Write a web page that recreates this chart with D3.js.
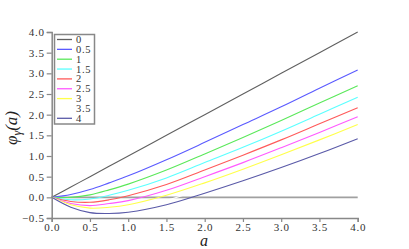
<!DOCTYPE html>
<html>
<head>
<meta charset="utf-8">
<script src="https://cdn.jsdelivr.net/npm/d3@7"></script>
<style>
  body { margin: 0; background: #fff; }
  svg text { font-family: "Liberation Serif", "Times New Roman", "DejaVu Serif", serif; }
</style>
</head>
<body>
<div id="chart"></div>
<script>
// values
var aVals = [0, 0.25, 0.5, 0.75, 1, 1.5, 2, 2.5, 3, 3.5, 4];
var gammas = ["0", "0.5", "1", "1.5", "2", "2.5", "3", "3.5", "4"];
var phi0  = [0, 0.25, 0.5, 0.75, 1, 1.5, 2, 2.5, 3, 3.5, 4];
var phi05 = [0, 0.07, 0.19, 0.35, 0.52, 0.91, 1.33, 1.76, 2.19, 2.64, 3.08];
var phi1  = [0, 0.00, 0.06, 0.18, 0.32, 0.66, 1.05, 1.45, 1.86, 2.28, 2.70];
var phi15 = [0, -0.06, -0.04, 0.05, 0.17, 0.47, 0.84, 1.21, 1.60, 2.01, 2.42];
var phi2  = [0, -0.10, -0.12, -0.06, 0.04, 0.31, 0.66, 1.02, 1.39, 1.78, 2.17];
var phi25 = [0, -0.15, -0.20, -0.15, -0.08, 0.17, 0.50, 0.84, 1.20, 1.57, 1.95];
var phi3  = [0, -0.18, -0.26, -0.24, -0.18, 0.05, 0.35, 0.68, 1.03, 1.39, 1.76];
var phi35 = [0, -0.22, -0.32, -0.32, -0.27, -0.07, 0.22, 0.54, 0.87, 1.22, 1.57];
var phi4  = [0, -0.24, -0.37, -0.39, -0.36, -0.18, 0.10, 0.40, 0.72, 1.06, 1.42];
var tickVals = [0, 0.5, 1, 1.5, 2, 2.5, 3, 3.5, 4];
var yTickVals = [-0.5, 0, 0.5, 1, 1.5, 2, 2.5, 3, 3.5, 4];

var series = [phi0, phi05, phi1, phi15, phi2, phi25, phi3, phi35, phi4];
var colors = ["#606060", "#5a5aff", "#5ae85a", "#5affff", "#ff5a5a", "#ff5aff", "#ffff4a", "#ffffff", "#5a5aa8"];

var serif = "Liberation Serif, Times New Roman, DejaVu Serif, serif";
var width = 409, height = 249;

var svg = d3.select("#chart").append("svg")
  .attr("width", width)
  .attr("height", height);

var x = d3.scaleLinear().domain([0, 4]).range([51.7, 357.7]);
var y = d3.scaleLinear().domain([-0.5, 4]).range([218, 32]);

// zero line
svg.append("line")
  .attr("x1", x(0)).attr("x2", x(4))
  .attr("y1", y(0)).attr("y2", y(0))
  .attr("stroke", "#a0a0a0")
  .attr("stroke-width", 1.6);

var line = d3.line()
  .x(function(d) { return x(d[0]); })
  .y(function(d) { return y(d[1]); })
  .curve(d3.curveCatmullRom.alpha(0.5));

series.forEach(function(s, i) {
  svg.append("path")
    .datum(aVals.map(function(a, j) { return [a, s[j]]; }))
    .attr("fill", "none")
    .attr("stroke", colors[i])
    .attr("stroke-width", 1.1)
    .attr("d", line);
});

// axes
var xAxis = svg.append("g")
  .attr("transform", "translate(0," + y(-0.5) + ")")
  .call(d3.axisBottom(x).tickValues(tickVals).tickSize(4).tickPadding(1)
    .tickFormat(d3.format(".1f")));
var yAxis = svg.append("g")
  .attr("transform", "translate(" + x(0) + ",0)")
  .call(d3.axisLeft(y).tickValues(yTickVals).tickSize(5).tickPadding(2)
    .tickFormat(d3.format(".1f")));

[xAxis, yAxis].forEach(function(g) {
  g.attr("font-family", serif).attr("font-size", 11);
  g.select(".domain").attr("stroke", "#888").attr("stroke-width", 1.5);
  g.selectAll(".tick line").attr("stroke", "#888").attr("stroke-width", 1.2);
  g.selectAll(".tick text")
    .attr("fill", "#333")
    .style("letter-spacing", "0.7px");
});

// axis titles
svg.append("text")
  .attr("x", 204).attr("y", 246)
  .attr("text-anchor", "middle")
  .style("font-size", "16px")
  .style("font-style", "italic")
  .attr("fill", "#222")
  .text("a");

var yt = svg.append("text")
  .attr("transform", "translate(17,128) rotate(-90)")
  .attr("text-anchor", "middle")
  .style("font-size", "17px")
  .style("font-style", "italic")
  .attr("fill", "#222");
yt.append("tspan").text("φ");
yt.append("tspan").attr("dy", 4).style("font-size", "12px").text("γ");
yt.append("tspan").attr("dy", -4).text("(a)");

// legend
var legend = svg.append("g");
legend.append("rect")
  .attr("x", 54.5).attr("y", 34.5)
  .attr("width", 40).attr("height", 89.5)
  .attr("fill", "#fff")
  .attr("stroke", "#888")
  .attr("stroke-width", 1.5);

gammas.forEach(function(gm, i) {
  var ry = 39.5 + i * 9.85;
  legend.append("line")
    .attr("x1", 57).attr("x2", 72)
    .attr("y1", ry).attr("y2", ry)
    .attr("stroke", colors[i])
    .attr("stroke-width", 1.3);
  legend.append("text")
    .attr("x", 76).attr("y", ry + 3.5)
    .style("font-size", "10.5px")
    .style("letter-spacing", "0.7px")
    .attr("fill", "#333")
    .text(gm);
});
</script>
</body>
</html>
